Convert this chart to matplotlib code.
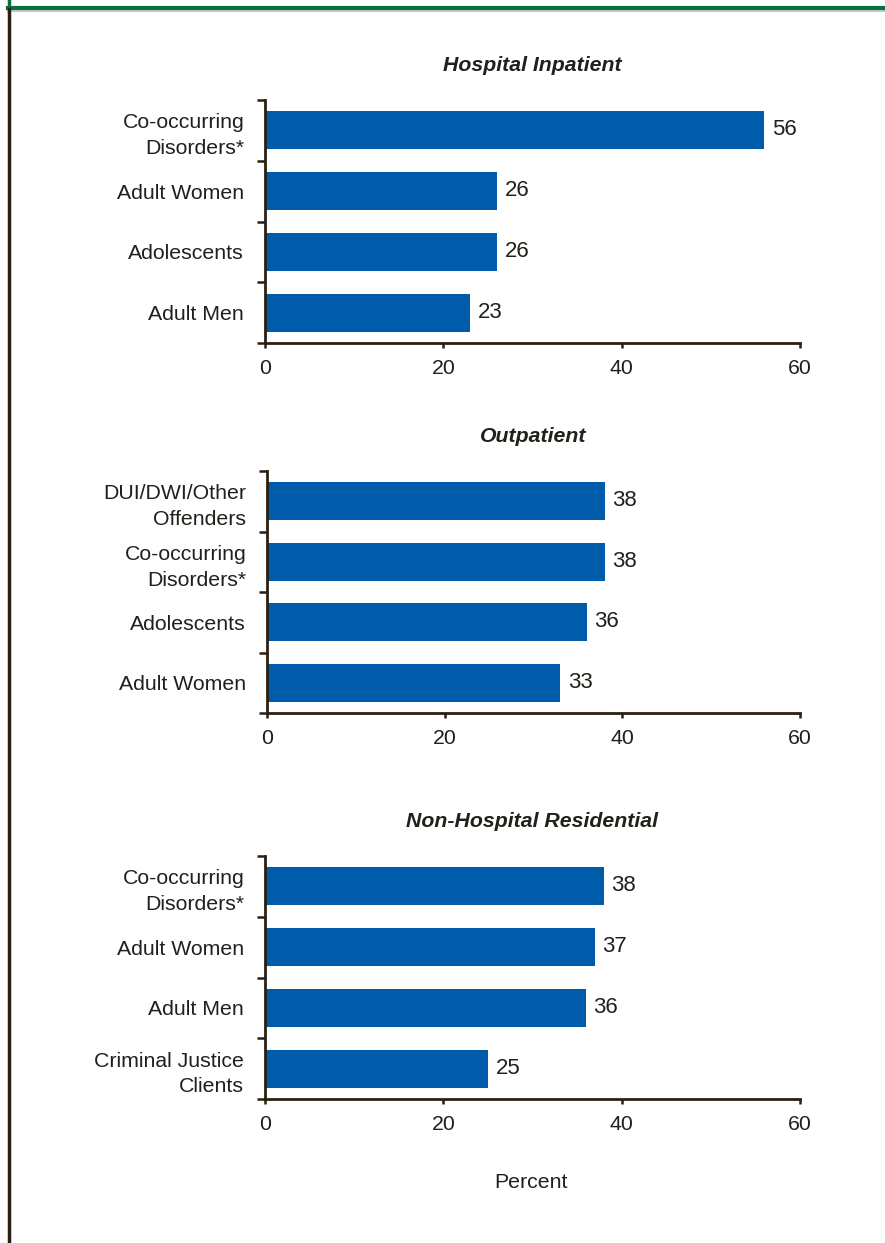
import matplotlib
matplotlib.use('Agg')
import matplotlib.pyplot as plt
from matplotlib.lines import Line2D

plt.rcParams['font.family'] = ['Liberation Sans', 'DejaVu Sans']

# data (bottom to top in each panel)
titles = ['Hospital Inpatient', 'Outpatient', 'Non-Hospital Residential']
labels_inpatient = ['Adult Men', 'Adolescents', 'Adult Women', 'Co-occurring\nDisorders*']
values_inpatient = [23, 26, 26, 56]
labels_outpatient = ['Adult Women', 'Adolescents', 'Co-occurring\nDisorders*', 'DUI/DWI/Other\nOffenders']
values_outpatient = [33, 36, 38, 38]
labels_residential = ['Criminal Justice\nClients', 'Adult Men', 'Adult Women', 'Co-occurring\nDisorders*']
values_residential = [25, 36, 37, 38]
xticks = [0, 20, 40, 60]

W, H = 885, 1243
bar_color = '#005BAA'
ink = '#231f1a'
axis_col = '#2a1f10'
fs = 15.3

fig = plt.figure(figsize=(W / 100, H / 100), dpi=100)

# axes boxes in pixels: left, right, top, bottom
boxes = [(265, 800, 100, 343), (267, 800, 471, 713), (265, 800, 856, 1099)]
panels = [(labels_inpatient, values_inpatient),
          (labels_outpatient, values_outpatient),
          (labels_residential, values_residential)]

for (l, r, t, b), title, (labs, vals) in zip(boxes, titles, panels):
    ax = fig.add_axes([l / W, 1 - b / H, (r - l) / W, (b - t) / H])
    y = list(range(len(vals)))
    ax.barh(y, vals, height=0.625, color=bar_color)
    for yi, v in zip(y, vals):
        ax.text(v + 0.85, yi + 0.01, str(v), va='center', ha='left',
                fontsize=16, color=ink)
    ax.set_xlim(0, 60)
    ax.set_ylim(-0.5, len(vals) - 0.5)
    ax.set_xticks(xticks)
    ax.set_xticklabels([str(x) for x in xticks], fontsize=fs, color=ink)
    # ticks at category boundaries, labels at centers
    ax.set_yticks([i - 0.5 for i in range(len(vals) + 1)])
    ax.set_yticklabels([])
    ax.set_yticks(y, minor=True)
    ax.set_yticklabels(labs, minor=True, fontsize=fs, color=ink,
                       linespacing=1.45)
    ax.tick_params(axis='y', which='minor', length=0, pad=15)
    ax.tick_params(axis='y', which='major', length=5.5, width=1.8,
                   color=axis_col, direction='out')
    ax.tick_params(axis='x', length=3.5, width=1.8, color=axis_col, pad=8)
    for s in ['top', 'right']:
        ax.spines[s].set_visible(False)
    for s in ['left', 'bottom']:
        ax.spines[s].set_color(axis_col)
        ax.spines[s].set_linewidth(2)
    ax.set_title(title, fontsize=fs, fontweight='bold', fontstyle='italic',
                 color=ink, pad=21)

fig.text(531 / W, 1 - 1182 / H, 'Percent', ha='center', va='center',
         fontsize=fs, color=ink)

# page frame: green top rule and dark left rule
fig.add_artist(Line2D([8 / W, 1], [1 - 11 / H, 1 - 11 / H], color='#c8c8c8', lw=1.5))
fig.add_artist(Line2D([8 / W, 1], [1 - 8 / H, 1 - 8 / H], color='#0a7040', lw=3))
fig.add_artist(Line2D([9 / W, 9 / W], [1 - 8 / H, 1], color='#0a7040', lw=2.5))
fig.add_artist(Line2D([9 / W, 9 / W], [0, 1 - 9 / H], color=axis_col, lw=2.5))

fig.savefig('out.png', dpi=100)
